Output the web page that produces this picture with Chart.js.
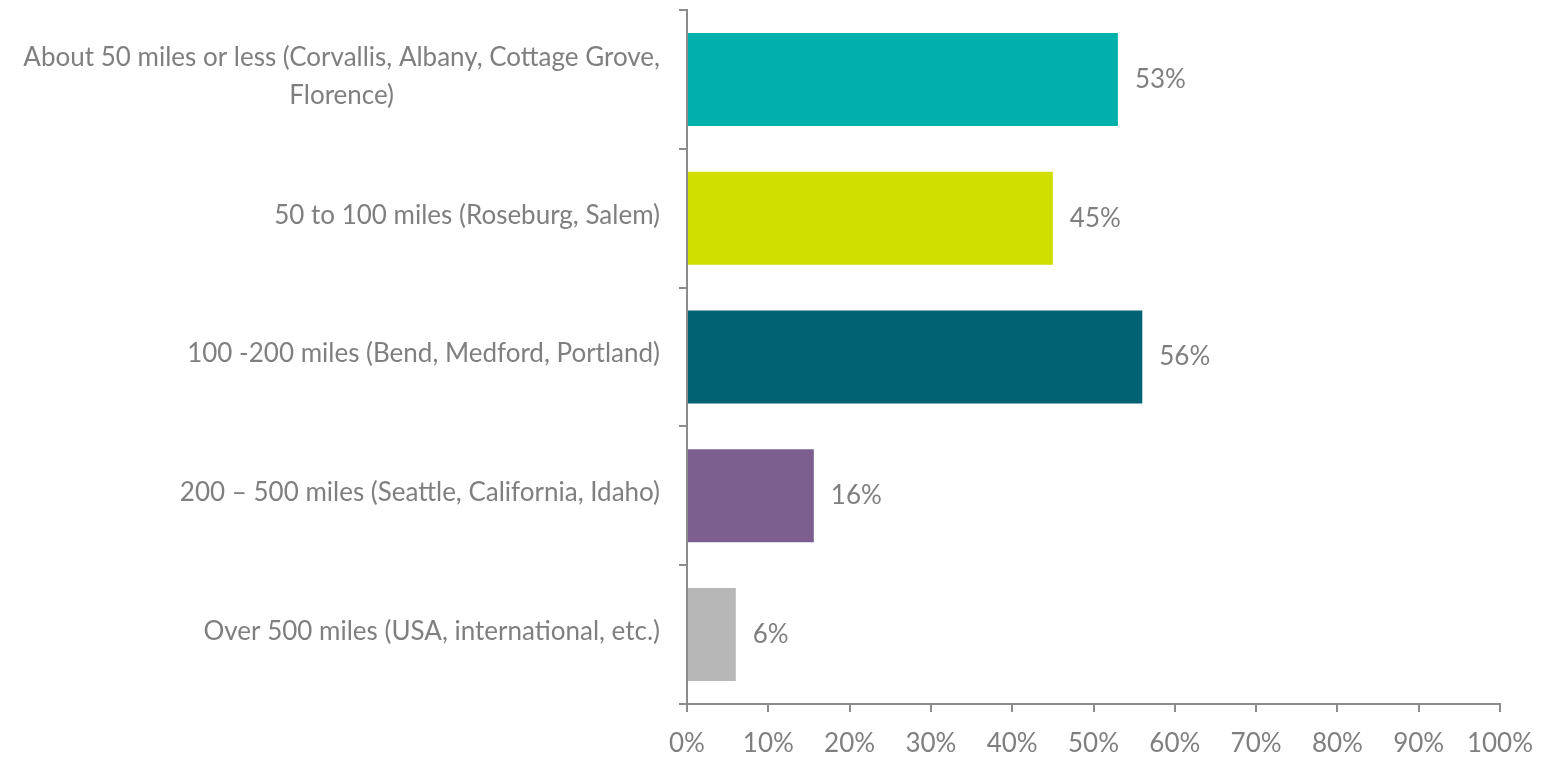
<!DOCTYPE html>
<html>
<head>
<meta charset="utf-8">
<script src="https://cdn.jsdelivr.net/npm/chart.js@4"></script>
<style>
  html, body { margin: 0; padding: 0; background: #fff; }
  #wrap { width: 1541px; height: 757px; }
</style>
</head>
<body>
<div id="wrap"><canvas id="main-chart"></canvas></div>
<script>
// ====== Distance travelled, horizontal bars ======
const categories = [
  ["About 50 miles or less (Corvallis, Albany, Cottage Grove,", "Florence)"],
  "50 to 100 miles (Roseburg, Salem)",
  "100 -200 miles (Bend, Medford, Portland)",
  "200 \u2013 500 miles (Seattle, California, Idaho)",
  "Over 500 miles (USA, international, etc.)"
];
const shares = [53, 45, 56, 15.6, 6];
const shareLabels = ["53%", "45%", "56%", "16%", "6%"];
const barColors = ["#00B0AA", "#D0DE00", "#006272", "#7D5F8F", "#B7B7B7"];
const xTicks = [0, 10, 20, 30, 40, 50, 60, 70, 80, 90, 100];

const textColor = "#7F7F7F";
const axisColor = "#8C8C8C";
const fontFamily = "Lato, 'Open Sans', sans-serif";
const fontSize = 26;

// category labels: multi-line ones are centred as a block, right edge at the axis gap
const catLabels = {
  id: "catLabels",
  afterDraw(chart) {
    const ctx = chart.ctx;
    const y = chart.scales.y;
    const right = y.right - 27;
    const lineH = 38;
    ctx.save();
    ctx.font = fontSize + "px " + fontFamily;
    ctx.fillStyle = textColor;
    ctx.textAlign = "center";
    ctx.textBaseline = "middle";
    categories.forEach((c, i) => {
      const lines = Array.isArray(c) ? c : [c];
      const w = Math.max(...lines.map(l => ctx.measureText(l).width));
      const cx = right - w / 2;
      const cy = y.getPixelForTick(i) - 3;
      const top = cy - (lines.length - 1) * lineH / 2;
      lines.forEach((l, k) => ctx.fillText(l, cx, top + k * lineH));
    });
    ctx.restore();
  }
};

// value labels at the end of each bar
const valueLabels = {
  id: "valueLabels",
  afterDatasetsDraw(chart) {
    const ctx = chart.ctx;
    const meta = chart.getDatasetMeta(0);
    ctx.save();
    ctx.font = fontSize + "px " + fontFamily;
    ctx.fillStyle = textColor;
    ctx.textAlign = "left";
    ctx.textBaseline = "middle";
    meta.data.forEach((bar, i) => {
      ctx.fillText(shareLabels[i], bar.x + 17, bar.y);
    });
    ctx.restore();
  }
};

const chartCanvas = document.getElementById("main-chart").getContext("2d");
const proChart = new Chart(chartCanvas, {
  type: "bar",
  data: {
    labels: categories,
    datasets: [{
      data: shares,
      backgroundColor: barColors,
      borderWidth: 0,
      categoryPercentage: 1,
      barPercentage: 0.67
    }]
  },
  options: {
    indexAxis: "y",
    responsive: true,
    maintainAspectRatio: false,
    animation: false,
    layout: { padding: { top: 10, right: 41, bottom: 0, left: 0 } },
    plugins: { legend: { display: false }, tooltip: { enabled: false } },
    scales: {
      x: {
        min: 0,
        max: 100,
        afterBuildTicks: s => { s.ticks = xTicks.map(v => ({ value: v })); },
        afterFit: s => { s.height = 53; s.paddingLeft = 0; s.paddingRight = 0; },
        border: { color: axisColor, width: 2 },
        grid: { drawOnChartArea: false, tickLength: 8, color: axisColor, lineWidth: 2 },
        ticks: {
          padding: 16,
          color: textColor,
          font: { family: fontFamily, size: fontSize },
          callback: v => v + "%"
        }
      },
      y: {
        afterFit: s => { s.width = 687; },
        border: { color: axisColor, width: 2 },
        grid: { drawOnChartArea: false, tickLength: 8, color: axisColor, lineWidth: 2, offset: true },
        ticks: { display: false }
      }
    }
  },
  plugins: [catLabels, valueLabels]
});
</script>
</body>
</html>
